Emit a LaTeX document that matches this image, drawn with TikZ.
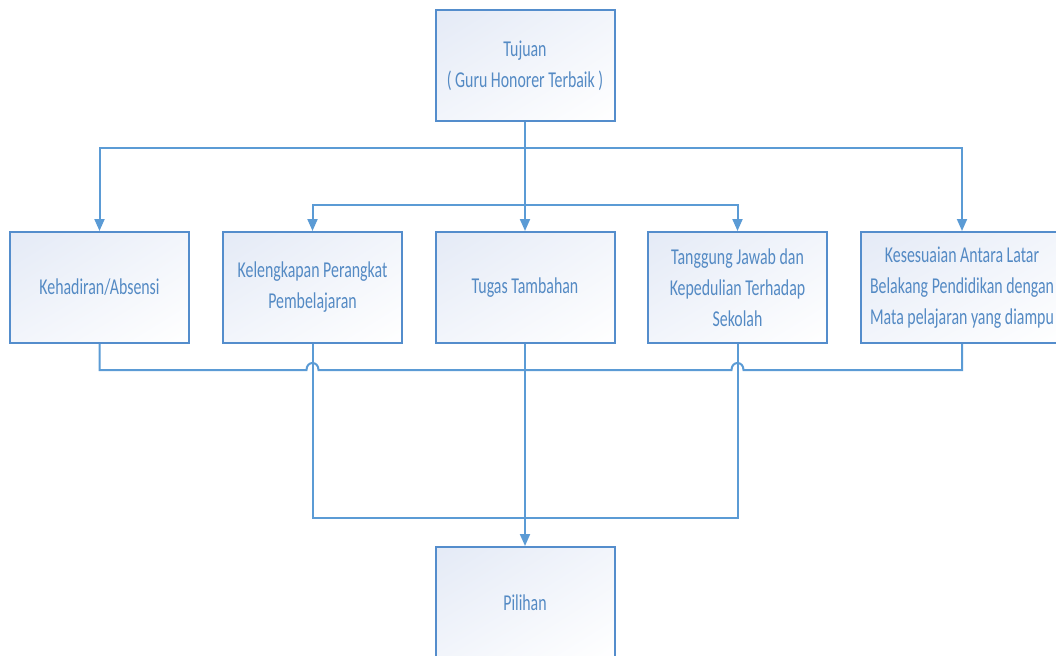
\documentclass[tikz,border=0pt]{standalone}
\usepackage{fontspec}
\setmainfont{Carlito}
\newfontfamily\boxfont{Carlito}[FakeStretch=0.7]
\usetikzlibrary{arrows.meta,shadings}
\definecolor{linec}{RGB}{91,155,213}
\definecolor{borderc}{RGB}{84,141,204}
\definecolor{textc}{RGB}{84,138,196}
\definecolor{fillc}{RGB}{228,234,246}
\definecolor{fillm}{RGB}{242,245,251}
\tikzset{
  box/.style={draw=borderc, line width=1.5pt, rectangle,
    upper left=fillc, upper right=fillm, lower left=fillm, lower right=white,
    minimum width=134.25pt, minimum height=83.25pt, inner sep=2pt,
    align=center, text=textc, font=\boxfont\fontsize{17}{23.25}\selectfont},
  conn/.style={draw=linec, line width=1.5pt},
  arr/.style={conn, -{Triangle[length=9pt,width=7.5pt]}}
}
\begin{document}
\begin{tikzpicture}[x=0.75pt,y=-0.75pt]
\useasboundingbox (0,0) rectangle (1056,656);
\begin{scope}
\clip (0,0) rectangle (1056,656);
\node[box] (top) at (525,65.5) {Tujuan\\( Guru Honorer Terbaik )};
\node[box] (b1) at (99.5,287.5) {Kehadiran/Absensi};
\node[box] (b2) at (312.5,287.5) {Kelengkapan Perangkat\\Pembelajaran};
\node[box] (b3) at (525,287.5) {Tugas Tambahan};
\node[box] (b4) at (737.5,287.5) {Tanggung Jawab dan\\Kepedulian Terhadap\\Sekolah};
\node[box, minimum width=151.5pt] (b5) at (962,287.5) {Kesesuaian Antara Latar\\Belakang Pendidikan dengan\\Mata pelajaran yang diampu};
\node[box] (pil) at (525,602.5) {Pilihan};

\coordinate (j1) at (525,148);
\coordinate (j2) at (525,205);
\coordinate (h) at (0,370);
\coordinate (k) at (525,518);

\draw[arr] (top.south) -- (b3.north);
\draw[arr] (j1) -| (b1.north);
\draw[arr] (j1) -| (b5.north);
\draw[arr] (j2) -| (b2.north);
\draw[arr] (j2) -| (b4.north);

\draw[conn] (b1.south) -- (b1.south |- h) -- ([xshift=-4.5pt]b2.south |- h)
  .. controls ([xshift=-4.5pt,yshift=7pt]b2.south |- h) and ([xshift=4.5pt,yshift=7pt]b2.south |- h) .. ([xshift=4.5pt]b2.south |- h)
  -- ([xshift=-4.5pt]b4.south |- h)
  .. controls ([xshift=-4.5pt,yshift=7pt]b4.south |- h) and ([xshift=4.5pt,yshift=7pt]b4.south |- h) .. ([xshift=4.5pt]b4.south |- h)
  -- (b5.south |- h) -- (b5.south);
\draw[conn] (b2.south) |- (k) -| (b4.south);
\draw[arr] (b3.south) -- (pil.north);
\end{scope}
\end{tikzpicture}
\end{document}
